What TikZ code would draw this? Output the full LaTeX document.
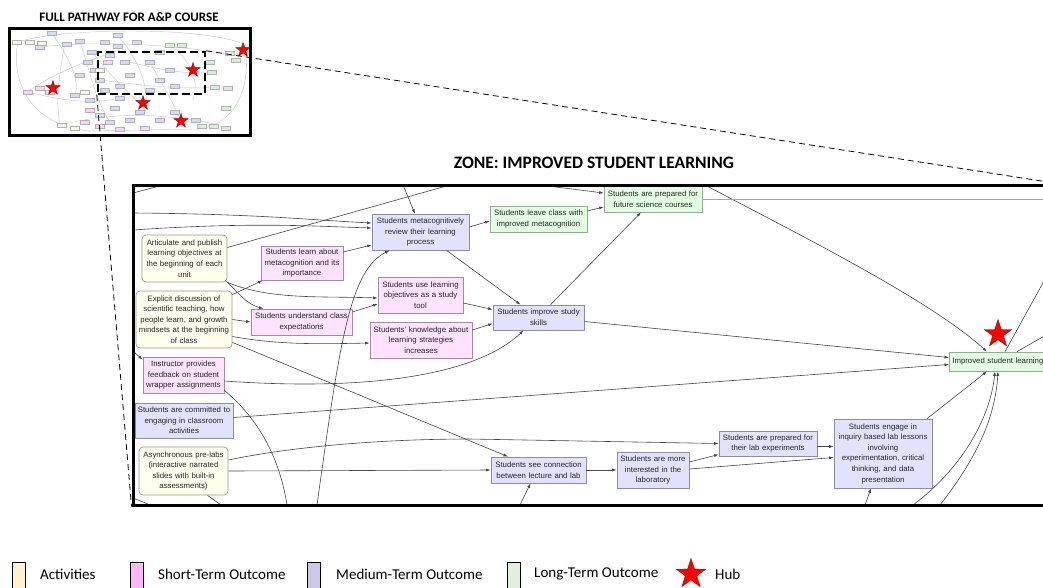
\documentclass[tikz,border=0pt]{standalone}
\usepackage{fontspec}
\setmainfont{Liberation Sans}
\newfontfamily\calfont{Carlito}
\usetikzlibrary{shapes.geometric,arrows.meta,calc}
\definecolor{actF}{HTML}{FFFFEE}\definecolor{actD}{HTML}{9A9A7A}
\definecolor{stF}{HTML}{FFE2FF}\definecolor{stD}{HTML}{A687A6}
\definecolor{mtF}{HTML}{E2E2FF}\definecolor{mtD}{HTML}{8C8CA8}
\definecolor{ltF}{HTML}{E2FFE2}\definecolor{ltD}{HTML}{8FAF8F}
\definecolor{lgA}{HTML}{FFF2CC}\definecolor{lgS}{HTML}{FFB7FA}
\definecolor{lgM}{HTML}{CDC7E6}\definecolor{lgL}{HTML}{E3EFDA}
\definecolor{tL}{HTML}{D8D8F8}\definecolor{tG}{HTML}{D6F0D6}
\definecolor{tP}{HTML}{F6D6F6}\definecolor{tY}{HTML}{F8F8E0}
\definecolor{edgeC}{HTML}{444444}
\newcommand\nodefont{\fontsize{7.8}{10.6}\selectfont}
\newcommand\bx[7]{\pgfmathsetmacro\bw{#5-#3}\pgfmathsetmacro\bh{#6-#4}%
 \pgfmathsetmacro\tw{#5-#3-2}\pgfmathsetmacro\cx{(#3+#5)/2}\pgfmathsetmacro\cy{(#4+#6)/2}%
 \node[#1, minimum width=\bw pt, minimum height=\bh pt, text width=\tw pt] (#2) at (\cx,\cy) {#7};}
\tikzset{
 box/.style={draw, line width=0.7pt, inner sep=0pt, align=center, font=\nodefont, text=black!85},
 act/.style={box, fill=actF, draw=actD, rounded corners=4pt},
 sto/.style={box, fill=stF, draw=stD},
 mto/.style={box, fill=mtF, draw=mtD},
 lto/.style={box, fill=ltF, draw=ltD},
 edge/.style={draw=edgeC, line width=0.6pt, -{Latex[length=4.5pt,width=3pt]}},
 plain/.style={draw=edgeC, line width=0.6pt},
 hub/.style={star, star points=5, star point ratio=2.6, inner sep=0pt, fill=red, draw=red!60!black, line width=0.4pt},
 lgbox/.style={draw, line width=0.8pt, minimum width=13pt, minimum height=28pt, inner sep=0pt},
 lgtxt/.style={anchor=west, font=\calfont\fontsize{15}{18}\selectfont, inner sep=0pt},
 tbox/.style={draw=gray!60, line width=0.3pt},
 tline/.style={draw=gray!45, line width=0.45pt}
}
\begin{document}
\begin{tikzpicture}[x=1pt,y=-1pt]
\useasboundingbox (0,0) rectangle (1043,587);
\clip (0,0) rectangle (1043,587);

% ---------- thumbnail ----------
\node[font=\calfont\bfseries\fontsize{13}{15}\selectfont, inner sep=0pt] (ttlfull) at (129,17) {FULL PATHWAY FOR A\&P COURSE};
\begin{scope}
\clip (9,28) rectangle (250,135);
\draw[tline] (18,42) .. controls (60,28) and (200,26) .. (244,44);
\draw[tline] (244,44) .. controls (252,80) and (240,122) .. (200,129);
\draw[tline] (18,42) .. controls (10,80) and (30,126) .. (90,131);
\draw[tline] (90,131) -- (200,129);
\draw[tline] (30,90) .. controls (60,70) and (90,60) .. (120,50);
\draw[tline] (40,47) .. controls (100,40) and (180,45) .. (232,55);
\draw[tline] (60,125) .. controls (120,110) and (170,115) .. (215,124);
\draw[tline] (80,42) .. controls (90,70) and (95,100) .. (110,122);
\draw[tline] (118,36) .. controls (140,60) and (150,90) .. (145,112);
\draw[tline] (52,33) .. controls (70,60) and (80,80) .. (75,95);
\draw[tline] (130,62) .. controls (160,70) and (190,75) .. (212,72);
\draw[tline] (100,80) .. controls (140,85) and (180,90) .. (215,87);
\draw[tline] (92,52) .. controls (110,75) and (130,95) .. (140,103);
\draw[tline] (150,62) .. controls (165,90) and (175,105) .. (181,121);
\draw[tline] (28,92) .. controls (60,100) and (90,105) .. (120,98);
\draw[tline] (170,45) .. controls (190,60) and (200,80) .. (193,100);
\draw[tline] (65,42) .. controls (60,70) and (55,100) .. (60,125);
\foreach \x/\y/\c in {52/33/tL,118/35/tL,40/47/tL,67/44/tL,80/41/tL,105/42/tL,118/46/tL,137/42/tL,
 92/52/tL,110/55/tL,88/62/tL,95/70/tL,100/80/tL,105/90/tL,120/98/tL,115/108/tL,140/112/tL,
 160/80/tL,175/86/tL,130/75/tL,150/62/tL,170/70/tL,125/62/tL,80/75/tL,75/95/tL,90/100/tL,
 100/115/tL,110/122/tL,130/120/tL,160/120/tL,175/112/tL,196/120/tL,150/90/tL,120/86/tL,
 230/53/tG,236/60/tG,210/62/tG,212/72/tG,215/87/tG,202/126/tG,214/126/tG,226/128/tG,
 228/88/tG,170/45/tG,182/45/tG,160/52/tG,226/108/tG,
 40/88/tP,28/92/tP,50/92/tP,90/110/tP,85/122/tP,100/126/tP,120/129/tP,145/128/tP,108/62/tP,
 30/42/tY,17/42/tY,42/43/tY,85/92/tY,62/125/tY,75/128/tY,100/70/tY}
  \draw[tbox, fill=\c] (\x-4.5,\y-2.3) rectangle (\x+4.5,\y+2.3);
\end{scope}
\node[draw, line width=3pt, minimum width=241pt, minimum height=107pt, inner sep=0pt] (thumb) at (129.5,81.5) {};
\node[draw, line width=2.4pt, dash pattern=on 8pt off 4pt, minimum width=107pt, minimum height=42pt, inner sep=0pt] (zoomrect) at (151.5,73) {};
\node[hub, minimum size=15pt] (s1) at (243,50) {};
\node[hub, minimum size=15pt] (s2) at (193,70) {};
\node[hub, minimum size=15pt] (s3) at (53,88) {};
\node[hub, minimum size=15pt] (s4) at (143,103) {};
\node[hub, minimum size=15pt] (s5) at (181,121) {};

% ---------- zone ----------
\node[font=\calfont\bfseries\fontsize{17.5}{20}\selectfont, inner sep=0pt] (ttlzone) at (594,163) {ZONE: IMPROVED STUDENT LEARNING};

\bx{mto}{meta}{372}{214}{469}{250}{Students metacognitively\\review their learning\\process}
\bx{act}{artic}{142}{235}{227}{282}{Articulate and publish\\learning objectives at\\the beginning of each\\unit}
\bx{sto}{learnmeta}{261}{246}{343}{280}{Students learn about\\metacognition and its\\importance}
\bx{sto}{uselo}{378}{277}{463}{313}{Students use learning\\objectives as a study\\tool}
\bx{act}{explicit}{136}{291}{232}{348}{Explicit discussion of\\scientific teaching, how\\people learn, and growth\\mindsets at the beginning\\of class}
\bx{sto}{underst}{251}{309}{352}{335}{Students understand class\\expectations}
\bx{sto}{know}{370}{322}{472}{358}{Students' knowledge about\\learning strategies\\increases}
\bx{sto}{instr}{143}{357}{224}{393}{Instructor provides\\feedback on student\\wrapper assignments}
\bx{mto}{commit}{135}{403}{233}{438}{Students are committed to\\engaging in classroom\\activities}
\bx{act}{async}{139}{447}{228}{495}{Asynchronous pre-labs\\(interactive narrated\\slides with built-in\\assessments)}
\bx{lto}{leave}{490}{206}{587}{232}{Students leave class with\\improved metacognition}
\bx{lto}{future}{604}{186}{702}{212}{Students are prepared for\\future science courses}
\bx{mto}{study}{493}{305}{584}{330}{Students improve study\\skills}
\bx{mto}{conn}{491}{457}{586}{483}{Students see connection\\between lecture and lab}
\bx{mto}{interest}{617}{452}{689}{488}{Students are more\\interested in the\\laboratory}
\bx{mto}{labprep}{719}{431}{817}{456}{Students are prepared for\\their lab experiments}
\bx{mto}{inquiry}{834}{419}{932}{488}{Students engage in\\inquiry based lab lessons\\involving\\experimentation, critical\\thinking, and data\\presentation}
\node[lto, align=left, anchor=west, minimum width=150pt, minimum height=19pt, text width=144pt] (improved) at (949,361.5) {Improved student learning};
\node[hub, minimum size=29pt] (hubz) at (998,334) {};

% free ends
\coordinate (f2) at (133,213);
\coordinate (f3) at (133,230);
\coordinate (f4) at (403,185);
\coordinate (f5) at (450,185);
\coordinate (f6) at (540,185);
\coordinate (f15) at (705,185);
\coordinate (f16) at (1060,199);
\coordinate (f26a) at (913,505);
\coordinate (f26b) at (940,505);
\coordinate (f27) at (865,505);
\coordinate (f28a) at (1060,252);
\coordinate (f28b) at (1060,327);
\coordinate (f29) at (520,505);
\coordinate (f30) at (317,505);
\coordinate (f31) at (287,505);
\coordinate (f32) at (221,505);
\coordinate (f1a) at (133,193);
\coordinate (f1b) at (163,185);
\coordinate (f33a) at (133,498);
\coordinate (f33b) at (148,504);
\coordinate (f34) at (134,352);
\coordinate (f35a) at (134,392);
\coordinate (f35b) at (134,400);
\coordinate (f36a) at (134,432);
\coordinate (f36b) at (134,440);

% edges
\draw[plain] (f1a) -- (f1b);
\draw[edge] (f2) .. controls (260,214) and (310,220) .. ($(meta.west)+(0,-9)$);
\draw[edge] (f3) .. controls (250,222) and (310,226) .. ($(meta.west)+(0,-4)$);
\draw[edge] (f4) -- ($(meta.north)+(-5.5,0)$);
\draw[edge] ($(learnmeta.east)+(0,-11)$) -- ($(meta.west)+(0,13)$);
\draw[plain] ($(artic.east)+(0,-11)$) -- (f5);
\draw[edge] (f6) -- ($(future.west)+(0,-6)$);
\draw[edge] ($(meta.east)+(0,-5)$) -- ($(leave.west)+(0,2)$);
\draw[edge] ($(leave.east)+(0,-8)$) -- ($(future.west)+(0,8)$);
\draw[edge] ($(meta.south)+(26,0)$) -- ($(study.north)+(-18,0)$);
\draw[edge] ($(uselo.east)+(0,8)$) -- ($(study.west)+(0,-8)$);
\draw[edge] ($(know.east)+(0,-10)$) -- ($(study.west)+(0,6)$);
\draw[edge] ($(instr.east)+(0,6)$) .. controls (380,392) and (480,372) .. ($(study.south)+(-15,0)$);
\draw[edge] ($(study.north)+(12,0)$) -- ($(future.south)+(-12,0)$);
\draw[edge] ($(study.east)+(0,4)$) -- ($(improved.west)+(0,-4)$);
\draw[edge] (f15) .. controls (800,235) and (930,300) .. ($(improved.north west)+(38,0)$);
\draw[draw=gray!70, line width=0.9pt] (future.east) -- (f16);
\draw[edge] ($(commit.east)+(0,-3)$) -- ($(improved.west)+(0,3)$);
\draw[edge] ($(explicit.south east)+(0,-6)$) -- ($(conn.north)+(-30.5,0)$);
\draw[edge] ($(async.east)+(0,-11)$) .. controls (290,447) and (380,439) .. (470,439) -- (labprep.west);
\draw[edge] (async.east) -- (conn.west);
\draw[edge] (conn.east) -- (interest.west);
\draw[edge] ($(interest.east)+(0,-8)$) -- ($(labprep.west)+(0,11)$);
\draw[edge] ($(interest.east)+(0,-1)$) -- ($(inquiry.west)+(0,4)$);
\draw[edge] ($(labprep.east)+(0,3)$) -- ($(inquiry.west)+(0,-7)$);
\draw[edge] ($(inquiry.north)+(44,0)$) -- ($(improved.south west)+(38,0)$);
\draw[edge] (f26a) .. controls (960,470) and (990,420) .. ($(improved.south west)+(46,0)$);
\draw[edge] (f26b) .. controls (975,460) and (995,420) .. ($(improved.south west)+(49,0)$);
\draw[edge] (f27) -- ($(inquiry.south)+(-12,0)$);
\draw[plain] ($(improved.north west)+(56,0)$) -- (f28a);
\draw[plain] ($(improved.north west)+(68,0)$) -- (f28b);
\draw[edge] (f29) -- ($(conn.south)+(-8,0)$);
\draw[edge] (f30) .. controls (340,340) and (350,270) .. ($(meta.south west)+(18,0)$);
\draw[plain] ($(instr.south east)+(0,-3)$) .. controls (260,420) and (280,460) .. (f31);
\draw[plain] ($(async.south)+(24,0)$) -- (f32);
\draw[plain] (f33a) -- (f33b);
\draw[edge] ($(explicit.east)$) -- (underst.west);
\draw[edge] ($(explicit.north east)+(0,4)$) -- ($(learnmeta.south west)+(2,0)$);
\draw[edge] ($(artic.south east)+(-2,-2)$) .. controls (238,292) and (246,304) .. ($(underst.north)+(-38,0)$);
\draw[edge] (artic.south east) .. controls (270,300) and (320,296) .. ($(uselo.west)+(0,3)$);
\draw[edge] ($(underst.east)+(0,-10)$) -- ($(uselo.west)+(0,9)$);
\draw[edge] ($(explicit.east)+(0,17)$) .. controls (280,345) and (320,344) .. ($(know.west)+(0,3)$);
\draw[edge] (f34) -- ($(instr.north west)+(0,3)$);
\draw[edge] (f35a) -- (f35b);
\draw[edge] (f36a) -- (f36b);

% zone frame and connectors
\node[draw, line width=3pt, minimum width=923pt, minimum height=320pt, inner sep=0pt] (zone) at (594.5,345) {};
\draw[line width=0.8pt, dash pattern=on 6pt off 4pt] (zoomrect.north east) -- (zone.north east);
\draw[line width=0.8pt, dash pattern=on 6pt off 4pt] (zoomrect.south west) -- (zone.south west);

% ---------- legend ----------
\node[lgbox, fill=lgA] (la) at (18.5,576) {};
\node[lgtxt] (lat) at (40,574) {Activities};
\node[lgbox, fill=lgS] (ls) at (136.5,576) {};
\node[lgtxt] (lst) at (158,574) {Short-Term Outcome};
\node[lgbox, fill=lgM] (lm) at (314,576) {};
\node[lgtxt] (lmt) at (336,574) {Medium-Term Outcome};
\node[lgbox, fill=lgL] (ll) at (513.5,576) {};
\node[lgtxt] (llt) at (534,574) {Long-Term Outcome};
\node[hub, minimum size=31pt] (lh) at (691,574) {};
\node[lgtxt] (lht) at (715,574) {Hub};
\end{tikzpicture}
\end{document}
